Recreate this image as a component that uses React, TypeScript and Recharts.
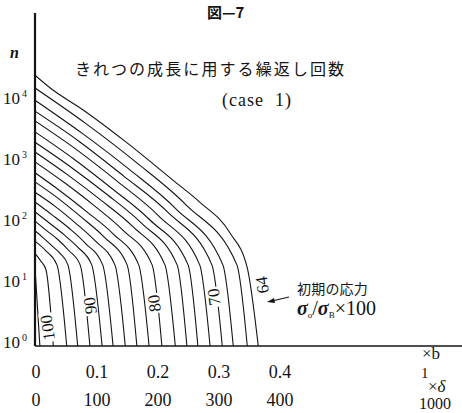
import { LineChart, Line, XAxis, YAxis, ReferenceDot } from 'recharts';

// Crack growth: relative crack length b against log10(n) of load cycles,
// one polyline per initial stress level σo/σB×100.
const STRESS_LEVELS = [64, 66, 68, 70, 72, 74, 76, 78, 80, 82, 84, 86, 88, 90, 92, 94, 96, 98, 100];

// [b, log10 n]
const CURVE_64 = [[0, 4.44], [0.025, 4.23], [0.079, 3.87], [0.151, 3.33], [0.226, 2.72], [0.27, 2.36], [0.32, 1.85], [0.348, 1.28], [0.366, 0]];
const CURVE_66 = [[0, 4.23], [0.083, 3.65], [0.166, 3.01], [0.248, 2.31], [0.331, 1.33], [0.348, 0]];
const CURVE_68 = [[0, 4.03], [0.077, 3.49], [0.154, 2.9], [0.231, 2.25], [0.308, 1.33], [0.325, 0]];
const CURVE_70 = [[0, 3.85], [0.073, 3.35], [0.145, 2.79], [0.218, 2.19], [0.29, 1.33], [0.307, 0]];
const CURVE_72 = [[0, 3.69], [0.068, 3.22], [0.135, 2.7], [0.203, 2.13], [0.27, 1.33], [0.287, 0]];
const CURVE_74 = [[0, 3.51], [0.063, 3.07], [0.125, 2.59], [0.188, 2.07], [0.251, 1.33], [0.267, 0]];
const CURVE_76 = [[0, 3.34], [0.058, 2.94], [0.116, 2.5], [0.175, 2.01], [0.233, 1.33], [0.249, 0]];
const CURVE_78 = [[0, 3.18], [0.053, 2.81], [0.107, 2.4], [0.16, 1.96], [0.213, 1.33], [0.23, 0]];
const CURVE_80 = [[0, 3.02], [0.048, 2.68], [0.096, 2.31], [0.144, 1.9], [0.192, 1.33], [0.208, 0]];
const CURVE_82 = [[0, 2.84], [0.043, 2.53], [0.085, 2.2], [0.128, 1.84], [0.17, 1.33], [0.187, 0]];
const CURVE_84 = [[0, 2.69], [0.038, 2.42], [0.075, 2.12], [0.113, 1.79], [0.151, 1.33], [0.167, 0]];
const CURVE_86 = [[0, 2.52], [0.033, 2.29], [0.066, 2.02], [0.098, 1.73], [0.131, 1.33], [0.148, 0]];
const CURVE_88 = [[0, 2.36], [0.028, 2.15], [0.056, 1.93], [0.083, 1.68], [0.111, 1.33], [0.128, 0]];
const CURVE_90 = [[0, 2.2], [0.023, 2.02], [0.047, 1.83], [0.07, 1.62], [0.093, 1.33], [0.11, 0]];
const CURVE_92 = [[0, 2.05], [0.018, 1.9], [0.037, 1.75], [0.055, 1.57], [0.074, 1.33], [0.09, 0]];
const CURVE_94 = [[0, 1.89], [0.014, 1.77], [0.027, 1.65], [0.041, 1.52], [0.054, 1.33], [0.07, 0]];
const CURVE_96 = [[0, 1.72], [0.018, 1.56], [0.036, 1.33], [0.052, 0]];
const CURVE_98 = [[0, 1.52], [0.009, 1.4], [0.018, 1.25], [0.03, 0]];
const CURVE_100 = [[0, 1.28], [0.008, 0]];

const CURVES: Record<number, number[][]> = {
  64: CURVE_64, 66: CURVE_66, 68: CURVE_68, 70: CURVE_70, 72: CURVE_72,
  74: CURVE_74, 76: CURVE_76, 78: CURVE_78, 80: CURVE_80, 82: CURVE_82,
  84: CURVE_84, 86: CURVE_86, 88: CURVE_88, 90: CURVE_90, 92: CURVE_92,
  94: CURVE_94, 96: CURVE_96, 98: CURVE_98, 100: CURVE_100,
};

const B_TICKS = [0, 0.1, 0.2, 0.3, 0.4];
const DELTA_TICKS = ['0', '100', '200', '300', '400'];
const LOG_N_TICKS = [0, 1, 2, 3, 4];

// in-line labels sitting on a few of the curves
const CURVE_LABELS = [
  { text: '100', b: 0.02, logN: 0.3 },
  { text: '90', b: 0.09, logN: 0.66 },
  { text: '80', b: 0.195, logN: 0.7 },
  { text: '70', b: 0.293, logN: 0.8 },
  { text: '64', b: 0.372, logN: 1.0 },
];

const INK = '#141414';
const SERIF = '"Liberation Serif", "DejaVu Serif", serif';
const CJK = '"Noto Sans CJK JP", sans-serif';

function XTick({ x, payload }: any) {
  const i = B_TICKS.indexOf(payload.value);
  return (
    <g fill={INK} fontFamily={SERIF} fontSize={18}>
      <text x={x + 1} y={378} textAnchor="middle">{payload.value === 0 ? '0' : payload.value.toFixed(1)}</text>
      <text x={x + 1} y={406} textAnchor="middle">{DELTA_TICKS[i]}</text>
    </g>
  );
}

function YTick({ y, payload }: any) {
  return (
    <text x={3} y={y + 2} fill={INK} fontFamily={SERIF} fontSize={17}>
      10
      <tspan dx={2} dy={-7} fontSize={10}>{payload.value}</tspan>
    </text>
  );
}

function CurveLabel(text: string) {
  return ({ cx, cy }: any) => {
    const w = text.length * 9 + 2;
    return (
      <g transform={`translate(${cx},${cy}) rotate(-98)`}>
        <rect x={-w / 2} y={-7} width={w} height={14} fill="#fff" />
        <text x={0} y={6} textAnchor="middle" fill={INK} fontFamily={SERIF} fontSize={17}>{text}</text>
      </g>
    );
  };
}

export default function App() {
  return (
    <div style={{ position: 'absolute', left: 0, top: 0, width: 462, height: 413, background: '#fff' }}>
      <LineChart width={462} height={413} margin={{ top: 13, right: 0, bottom: 0, left: 0 }}>
        <XAxis
          dataKey="b"
          type="number"
          domain={[0, 0.7]}
          ticks={B_TICKS}
          interval={0}
          allowDataOverflow
          height={67}
          tickLine={false}
          axisLine={{ stroke: INK, strokeWidth: 1.6 }}
          tick={XTick}
        />
        <YAxis
          type="number"
          domain={[0, 5.46]}
          ticks={LOG_N_TICKS}
          interval={0}
          allowDataOverflow
          width={35}
          tickLine={false}
          axisLine={{ stroke: INK, strokeWidth: 2.2 }}
          tick={YTick}
        />
        {STRESS_LEVELS.map((lvl) => (
          <Line
            key={lvl}
            data={CURVES[lvl].map(([b, logN]) => ({ b, logN }))}
            dataKey="logN"
            type="monotone"
            dot={false}
            stroke={INK}
            strokeWidth={1.1}
            isAnimationActive={false}
          />
        ))}
        {CURVE_LABELS.map((l) => (
          <ReferenceDot key={l.text} x={l.b} y={l.logN} r={0} shape={CurveLabel(l.text)} />
        ))}
      </LineChart>

      <svg width={462} height={413} style={{ position: 'absolute', left: 0, top: 0, pointerEvents: 'none' }}>
        <text x={207} y={18} fontFamily={CJK} fontWeight={700} fontSize={15} fill={INK}>図—7</text>
        <text x={10} y={58} fontFamily={SERIF} fontStyle="italic" fontWeight={700} fontSize={16} fill={INK}>n</text>
        <text x={75} y={75} fontFamily={CJK} fontSize={16} letterSpacing={2.1} fill={INK}>きれつの成長に用する繰返し回数</text>
        <text x={222} y={106} fontFamily={SERIF} fontSize={18} letterSpacing={1} fill={INK} style={{ whiteSpace: 'pre' }}>(case  1)</text>

        <text x={297} y={294} fontFamily={CJK} fontSize={14} letterSpacing={0.2} fill={INK}>初期の応力</text>
        <text x={297} y={315} fontFamily={SERIF} fontSize={20} fill={INK}>
          <tspan fontStyle="italic" fontWeight={700}>σ</tspan>
          <tspan fontSize={9} dy={3}>o</tspan>
          <tspan dy={-3}>/</tspan>
          <tspan fontStyle="italic" fontWeight={700}>σ</tspan>
          <tspan fontSize={9} dy={3}>B</tspan>
          <tspan dy={-3}>×100</tspan>
        </text>
        <line x1={289} y1={297} x2={272} y2={301} stroke={INK} strokeWidth={1.2} />
        <polygon points="267,302 274,298 275,303" fill={INK} />

        <text x={422} y={359} fontFamily={SERIF} fontSize={17} fill={INK}>×b</text>
        <text x={421} y={378} fontFamily={SERIF} fontSize={15} fill={INK}>1</text>
        <text x={428} y={392} fontFamily={SERIF} fontSize={17} fill={INK}>
          ×<tspan fontStyle="italic">δ</tspan>
        </text>
        <text x={419} y={409} fontFamily={SERIF} fontSize={16} fill={INK}>1000</text>
      </svg>
    </div>
  );
}
